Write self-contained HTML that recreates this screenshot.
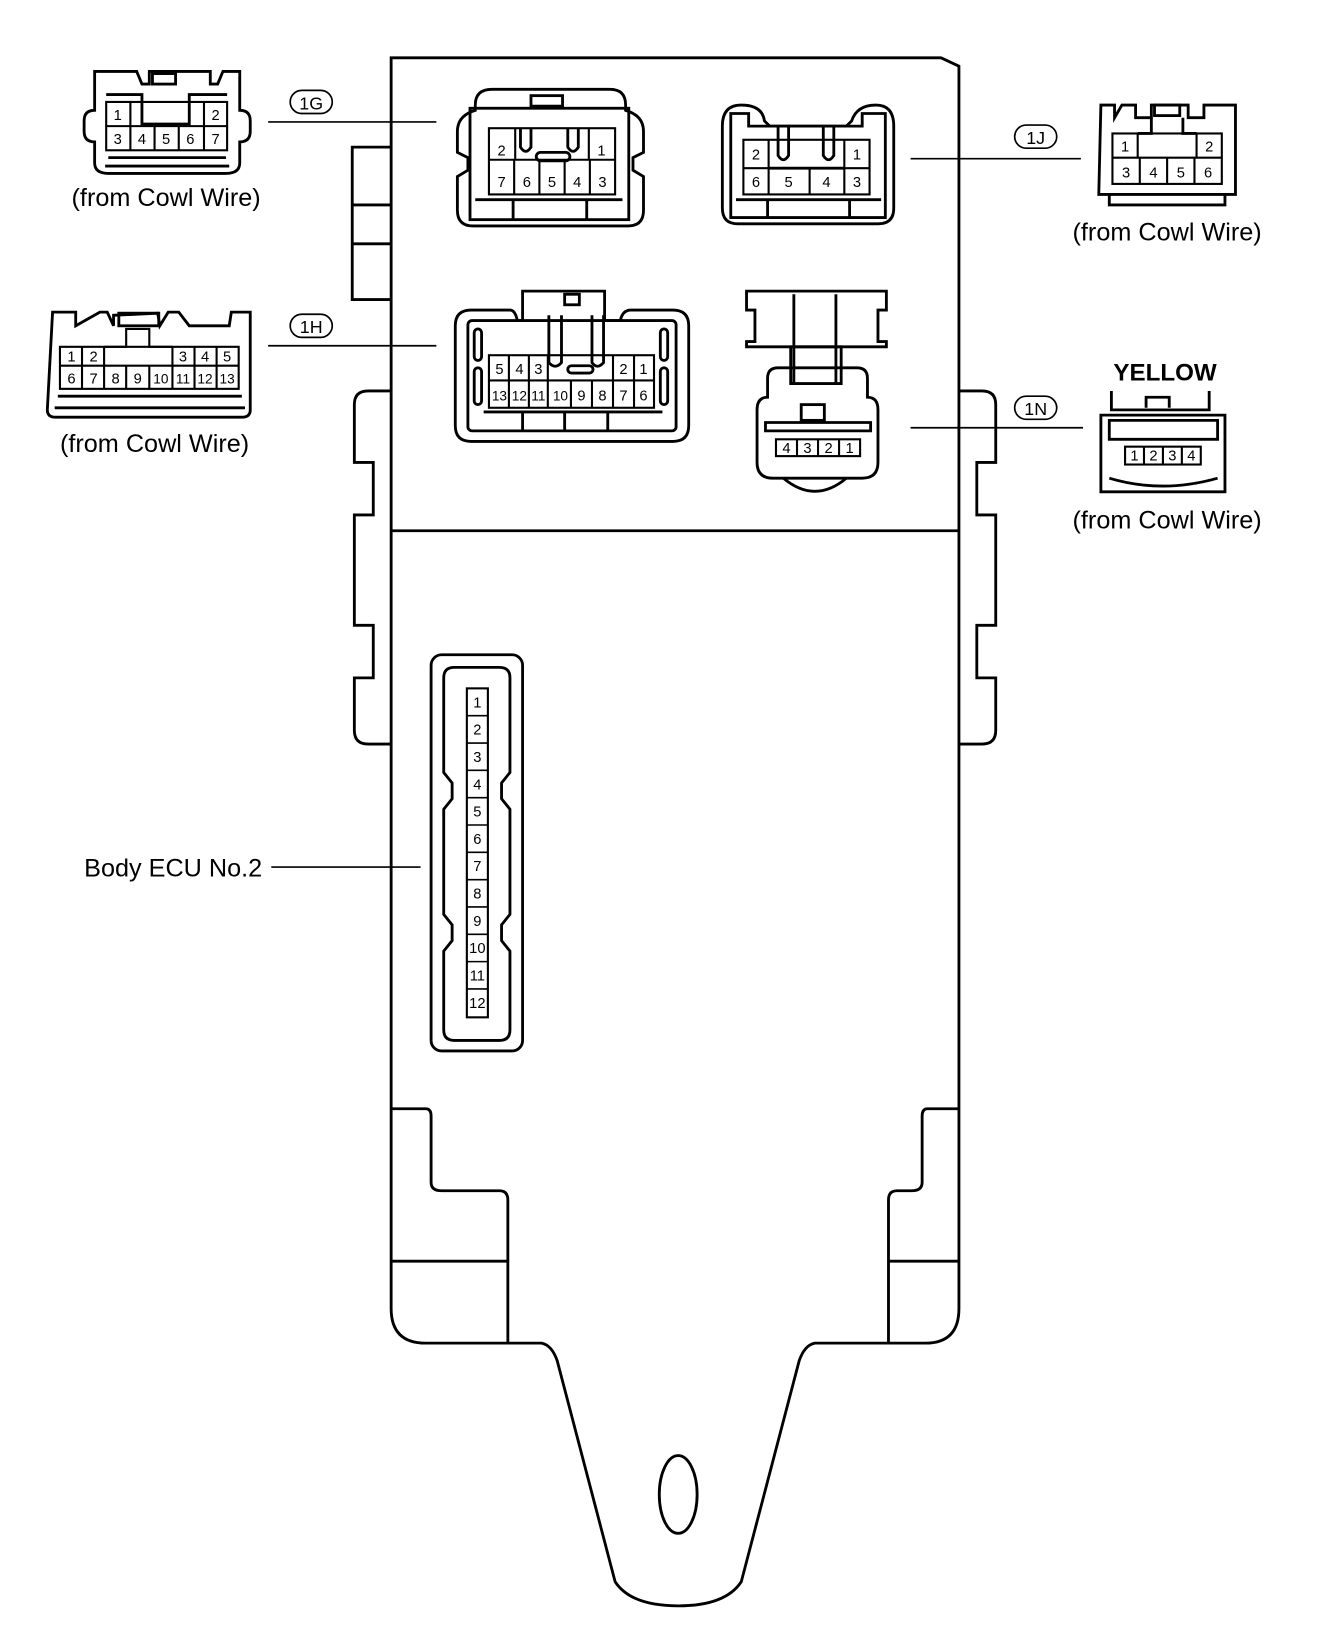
<!DOCTYPE html>
<html><head><meta charset="utf-8"><style>
html,body{margin:0;padding:0;background:#fff}
svg{display:block}
text{font-family:"Liberation Sans",sans-serif;fill:#000}
.n{font-size:14px;text-anchor:middle}
.l{font-size:24px}
</style></head><body>
<svg width="1328" height="1650" viewBox="0 0 1263 1570" preserveAspectRatio="none" xmlns="http://www.w3.org/2000/svg">
<g fill="none" stroke="#000" stroke-width="2.7">
<path d="M372,55 L895,55 L912,63 L912,1245 Q912,1278 880,1278 L775,1278 Q765,1280 760,1295 L705,1505 Q690,1528 645,1528 Q600,1528 585,1505 L530,1295 Q525,1280 515,1278 L405,1278 Q372,1278 372,1245 Z"/>
<line x1="372" y1="505" x2="912" y2="505"/>
<ellipse cx="645" cy="1422" rx="18" ry="37"/>
<path d="M372,140 L335,140 L335,285 L372,285"/>
<line x1="335" y1="195" x2="372" y2="195"/><line x1="335" y1="232" x2="372" y2="232"/>
<path d="M372,372 L350,372 Q337,372 337,385 L337,440 L355,440 L355,490 L337,490 L337,595 L355,595 L355,645 L337,645 L337,695 Q337,708 350,708 L372,708"/>
<path d="M912,372 L934,372 Q947,372 947,385 L947,440 L929,440 L929,490 L947,490 L947,595 L929,595 L929,645 L947,645 L947,695 Q947,708 934,708 L912,708"/>
<path d="M372,1055 L405,1055 Q410,1055 410,1062 L410,1125 Q410,1133 420,1133 L475,1133 Q483,1133 483,1142 L483,1278"/>
<line x1="372" y1="1200" x2="483" y2="1200"/>
<path d="M912,1055 L882,1055 Q877,1055 877,1062 L877,1125 Q877,1133 867,1133 L853,1133 Q845,1133 845,1142 L845,1278"/>
<line x1="845" y1="1200" x2="912" y2="1200"/>
<rect x="410" y="623" width="87" height="377" rx="10"/>
<path d="M432,635 L475,635 Q485,635 485,645 L485,735 L477,745 L477,760 L485,770 L485,870 L477,880 L477,895 L485,905 L485,980 Q485,990 475,990 L432,990 Q422,990 422,980 L422,905 L430,895 L430,880 L422,870 L422,770 L430,760 L430,745 L422,735 L422,645 Q422,635 432,635 Z"/>
<rect x="444" y="655" width="20" height="313" stroke-width="2"/>
</g>
<g stroke="#000" stroke-width="1.5">
<line x1="444" y1="681" x2="464" y2="681"/><line x1="444" y1="707" x2="464" y2="707"/><line x1="444" y1="733" x2="464" y2="733"/><line x1="444" y1="759" x2="464" y2="759"/><line x1="444" y1="785" x2="464" y2="785"/><line x1="444" y1="811" x2="464" y2="811"/><line x1="444" y1="837" x2="464" y2="837"/><line x1="444" y1="863" x2="464" y2="863"/><line x1="444" y1="889" x2="464" y2="889"/><line x1="444" y1="915" x2="464" y2="915"/><line x1="444" y1="941" x2="464" y2="941"/>
</g>
<text class="n" x="454" y="673">1</text><text class="n" x="454" y="699">2</text><text class="n" x="454" y="725">3</text><text class="n" x="454" y="751">4</text><text class="n" x="454" y="777">5</text><text class="n" x="454" y="803">6</text><text class="n" x="454" y="829">7</text><text class="n" x="454" y="855">8</text><text class="n" x="454" y="881">9</text><text class="n" x="454" y="907">10</text><text class="n" x="454" y="933">11</text><text class="n" x="454" y="959">12</text>

<g fill="none" stroke="#000" stroke-width="2.7">
<path d="M452,100 Q452,85 468,85 L580,85 Q595,85 595,100 L595,105 Q612,110 612,125 L612,145 L602,150 L602,162 L612,168 L612,200 Q612,215 597,215 L450,215 Q435,215 435,200 L435,168 L445,162 L445,150 L435,145 L435,125 Q435,110 452,105 Z"/>
<rect x="447" y="103" width="151" height="106"/>
<rect x="465" y="122" width="120" height="63" stroke-width="2"/>
<path d="M490,122 L490,152 M560,122 L560,152 M465,152 L585,152 M489,152 L489,185 M513,152 L513,185 M537,152 L537,185 M561,152 L561,185" stroke-width="2"/>
<path d="M495,122 L495,140 Q500,148 505,140 L505,122 M540,122 L540,140 Q545,148 550,140 L550,122"/>
<rect x="510" y="145" width="32" height="8" rx="4"/>
<path d="M452,190 L592,190 M488,190 L488,210 M558,190 L558,210"/>
<rect x="505" y="91" width="30" height="10"/>
</g>
<text class="n" x="477" y="148">2</text><text class="n" x="572" y="148">1</text>
<text class="n" x="477" y="178">7</text><text class="n" x="501" y="178">6</text><text class="n" x="525" y="178">5</text><text class="n" x="549" y="178">4</text><text class="n" x="573" y="178">3</text>

<g fill="none" stroke="#000" stroke-width="2.7">
<path d="M705,100 Q725,100 727,115 L732,120 L805,120 L810,115 Q815,100 833,100 Q850,100 850,120 L850,198 Q850,213 835,213 L702,213 Q687,213 687,198 L687,120 Q687,100 705,100 Z"/>
<path d="M695,108 L712,108 L712,120 L820,120 L820,108 L842,108 L842,207 L695,207 Z"/>
<rect x="707" y="133" width="120" height="52" stroke-width="2"/>
<path d="M731,133 L731,185 M803,133 L803,185 M707,160 L827,160 M770,160 L770,185" stroke-width="2"/>
<path d="M731,160 L803,160 M740,120 L740,148 Q745,156 750,148 L750,120 M783,120 L783,148 Q788,156 793,148 L793,120"/>
<path d="M700,190 L838,190 M730,190 L730,207 M808,190 L808,207"/>
</g>
<text class="n" x="719" y="152">2</text><text class="n" x="815" y="152">1</text>
<text class="n" x="719" y="178">6</text><text class="n" x="750" y="178">5</text><text class="n" x="786" y="178">4</text><text class="n" x="815" y="178">3</text>

<g fill="none" stroke="#000" stroke-width="2.7">
<path d="M448,295 L485,295 Q490,295 492,305 L497,305 L497,277 L575,277 L575,305 L590,305 Q592,295 600,295 L640,295 Q655,295 655,310 L655,405 Q655,420 640,420 L448,420 Q433,420 433,405 L433,310 Q433,295 448,295 Z"/>
<rect x="445" y="305" width="198" height="105" rx="4"/>
<rect x="465" y="338" width="157" height="50" stroke-width="2"/>
<path d="M465,362 L622,362 M484,338 L484,388 M503,338 L503,388 M521,338 L521,388 M583,338 L583,388 M603,338 L603,388 M543,362 L543,388 M563,362 L563,388" stroke-width="2"/>
<path d="M522,300 L522,345 Q528,352 534,345 L534,300 M563,300 L563,345 Q568,352 574,345 L574,300"/>
<rect x="540" y="348" width="24" height="7" rx="3.5"/>
<rect x="451" y="313" width="7" height="30" rx="3.5"/><rect x="451" y="350" width="7" height="35" rx="3.5"/>
<rect x="628" y="313" width="7" height="30" rx="3.5"/><rect x="628" y="350" width="7" height="35" rx="3.5"/>
<path d="M460,392 L630,392 M497,392 L497,410 M537,392 L537,410 M578,392 L578,410"/>
<rect x="537" y="280" width="14" height="10"/>
</g>
<text class="n" x="475" y="356">5</text><text class="n" x="494" y="356">4</text><text class="n" x="512" y="356">3</text><text class="n" x="593" y="356">2</text><text class="n" x="612" y="356">1</text>
<text class="n" x="475" y="381" style="font-size:13px">13</text><text class="n" x="494" y="381" style="font-size:13px">12</text><text class="n" x="512" y="381" style="font-size:13px">11</text><text class="n" x="533" y="381" style="font-size:13px">10</text><text class="n" x="553" y="381">9</text><text class="n" x="573" y="381">8</text><text class="n" x="593" y="381">7</text><text class="n" x="612" y="381">6</text>

<g fill="none" stroke="#000" stroke-width="2.7">
<path d="M710,277 L843,277 L843,295 L835,295 L835,325 L843,325 L843,330 L710,330 L710,325 L718,325 L718,295 L710,295 Z"/>
<path d="M755,280 L755,365 M795,280 L795,365 M752,330 L800,330 L800,365 L752,365 Z"/>
<path d="M740,350 L815,350 Q825,350 825,360 L825,378 Q835,378 835,390 L835,440 Q835,455 820,455 L735,455 Q720,455 720,440 L720,390 Q720,378 730,378 L730,360 Q730,350 740,350 Z"/>
<path d="M728,402 L828,402 L828,410 L728,410 Z"/>
<rect x="738" y="418" width="80" height="16" stroke-width="2"/>
<path d="M758,418 L758,434 M778,418 L778,434 M798,418 L798,434" stroke-width="2"/>
<path d="M745,455 Q775,480 805,455"/>
<rect x="762" y="385" width="22" height="15"/>
</g>
<text class="n" x="748" y="431">4</text><text class="n" x="768" y="431">3</text><text class="n" x="788" y="431">2</text><text class="n" x="808" y="431">1</text>

<g fill="none" stroke="#000" stroke-width="2.7">
<path d="M100,68 L130,68 L135,80 L142,80 L142,68 L200,68 L200,80 L207,80 L212,68 L228,68 L228,105 Q238,105 238,115 L238,125 Q238,135 228,135 L228,155 Q228,165 215,165 L103,165 Q90,165 90,155 L90,135 Q80,135 80,125 L80,115 Q80,105 90,105 L90,68 Z"/>
<path d="M101,90 L135,90 L135,118 L180,118 L180,90 L216,90"/>
<rect x="101" y="97" width="115" height="46" stroke-width="2"/>
<path d="M124,97 L124,143 M194,97 L194,143 M101,120 L216,120 M147,120 L147,143 M170,120 L170,143" stroke-width="2"/>
<path d="M103,150 L215,150 M100,158 L218,158"/>
<rect x="145" y="70" width="22" height="10"/>
</g>
<text class="n" x="112" y="114">1</text><text class="n" x="205" y="114">2</text>
<text class="n" x="112" y="137">3</text><text class="n" x="135" y="137">4</text><text class="n" x="158" y="137">5</text><text class="n" x="181" y="137">6</text><text class="n" x="205" y="137">7</text>

<g fill="none" stroke="#000" stroke-width="2.7">
<path d="M50,297 L72,297 L72,310 L95,297 L102,297 L108,310 L108,300 L150,298 L152,310 L160,297 L170,297 L180,310 L218,310 L220,297 L238,297 L238,390 Q238,397 230,397 L53,397 Q45,397 45,390 Z"/>
<rect x="57" y="330" width="170" height="40" stroke-width="2"/>
<path d="M57,348 L227,348 M78,330 L78,370 M99,330 L99,370 M164,330 L164,370 M185,330 L185,370 M206,330 L206,370 M120,348 L120,370 M142,348 L142,370" stroke-width="2"/>
<path d="M99,330 L120,330 L120,313 L142,313 L142,330 L164,330" stroke-width="2"/>
<path d="M55,377 L230,377 M52,388 L233,388"/>
<rect x="113" y="298" width="38" height="12"/>
</g>
<text class="n" x="68" y="344">1</text><text class="n" x="89" y="344">2</text><text class="n" x="174" y="344">3</text><text class="n" x="195" y="344">4</text><text class="n" x="216" y="344">5</text>
<text class="n" x="68" y="365">6</text><text class="n" x="89" y="365">7</text><text class="n" x="110" y="365">8</text><text class="n" x="131" y="365">9</text><text class="n" x="153" y="365" style="font-size:13px">10</text><text class="n" x="174" y="365" style="font-size:13px">11</text><text class="n" x="195" y="365" style="font-size:13px">12</text><text class="n" x="216" y="365" style="font-size:13px">13</text>

<g fill="none" stroke="#000" stroke-width="2.7">
<path d="M1047,100 L1060,100 L1060,112 L1067,100 L1080,100 L1080,112 L1095,112 L1095,100 L1130,100 L1130,112 L1145,112 L1145,100 L1175,100 L1175,185 L1045,185 Z"/>
<rect x="1058" y="127" width="104" height="48" stroke-width="2"/>
<path d="M1082,127 L1082,150 M1138,127 L1138,150 M1058,150 L1162,150 M1084,150 L1084,175 M1110,150 L1110,175 M1136,150 L1136,175" stroke-width="2"/>
<path d="M1082,127 L1095,127 L1095,112 M1138,127 L1125,127 L1125,112"/>
<path d="M1055,185 L1055,195 L1165,195 L1165,185"/>
<rect x="1098" y="100" width="24" height="10"/>
</g>
<text class="n" x="1070" y="144">1</text><text class="n" x="1150" y="144">2</text>
<text class="n" x="1071" y="169">3</text><text class="n" x="1097" y="169">4</text><text class="n" x="1123" y="169">5</text><text class="n" x="1149" y="169">6</text>

<g fill="none" stroke="#000" stroke-width="2.7">
<path d="M1057,372 L1057,390 L1150,390 L1150,372 M1047,395 L1165,395 L1165,468 L1047,468 Z"/>
<path d="M1055,400 L1158,400 L1158,418 L1055,418 Z M1090,388 L1090,378 L1112,378 L1112,388"/>
<rect x="1070" y="425" width="72" height="17" stroke-width="2"/>
<path d="M1088,425 L1088,442 M1106,425 L1106,442 M1124,425 L1124,442" stroke-width="2"/>
<path d="M1055,455 Q1105,470 1158,455"/>
</g>
<text class="n" x="1079" y="438">1</text><text class="n" x="1097" y="438">2</text><text class="n" x="1115" y="438">3</text><text class="n" x="1133" y="438">4</text>

<g stroke="#000" stroke-width="1.6" fill="none">
<line x1="255" y1="116" x2="415" y2="116"/>
<line x1="255" y1="329" x2="415" y2="329"/>
<line x1="866" y1="151" x2="1028" y2="151"/>
<line x1="866" y1="407" x2="1030" y2="407"/>
<line x1="258" y1="825" x2="400" y2="825"/>
<rect x="276" y="86" width="40" height="22" rx="11"/>
<rect x="276" y="299" width="40" height="22" rx="11"/>
<rect x="965" y="119" width="40" height="22" rx="11"/>
<rect x="965" y="377" width="40" height="22" rx="11"/>
</g>
<text x="296" y="104" style="font-size:17px;text-anchor:middle">1G</text>
<text x="296" y="317" style="font-size:17px;text-anchor:middle">1H</text>
<text x="985" y="137" style="font-size:17px;text-anchor:middle">1J</text>
<text x="985" y="395" style="font-size:17px;text-anchor:middle">1N</text>

<text class="l" x="158" y="196" text-anchor="middle">(from Cowl Wire)</text>
<text class="l" x="147" y="430" text-anchor="middle">(from Cowl Wire)</text>
<text class="l" x="1110" y="229" text-anchor="middle">(from Cowl Wire)</text>
<text class="l" x="1110" y="503" text-anchor="middle">(from Cowl Wire)</text>
<text x="1108" y="362" text-anchor="middle" style="font-size:23px;font-weight:bold">YELLOW</text>
<text class="l" x="80" y="834">Body ECU No.2</text>
</svg>
</body></html>
